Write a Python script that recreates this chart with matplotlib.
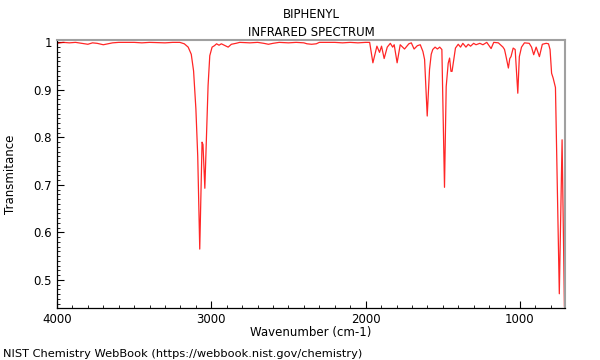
import matplotlib
matplotlib.use("Agg")
import matplotlib.pyplot as plt
from matplotlib.ticker import MultipleLocator, FuncFormatter

# wavenumber (cm-1) and transmittance
wavenumber = [4000, 3960, 3920, 3880, 3840, 3800, 3770, 3740, 3700, 3670,
              3640, 3600, 3500, 3450, 3400, 3300, 3250, 3204, 3175, 3150,
              3130, 3115, 3100, 3088, 3075, 3060, 3054, 3042, 3031, 3021,
              3010, 2995, 2980, 2966, 2950, 2935, 2910, 2891, 2870, 2840,
              2816, 2750, 2700, 2660, 2630, 2600, 2560, 2500, 2450, 2400,
              2380, 2350, 2320, 2300, 2200, 2150, 2100, 2050, 2000, 1974,
              1953, 1940, 1927, 1910, 1897, 1880, 1860, 1840, 1825, 1815,
              1796, 1776, 1748, 1720, 1704, 1686, 1665, 1646, 1629, 1618,
              1601, 1586, 1575, 1565, 1550, 1535, 1520, 1506, 1489, 1478,
              1465, 1456, 1447, 1440, 1418, 1400, 1385, 1370, 1350, 1335,
              1320, 1300, 1285, 1260, 1240, 1215, 1187, 1170, 1140, 1110,
              1100, 1090, 1075, 1066, 1058, 1044, 1031, 1014, 1004, 990,
              971, 940, 925, 911, 895, 874, 855, 830, 815, 805,
              795, 785, 770, 745, 727, 712, 706]
transmittance = [0.998, 1.0, 0.999, 1.0, 0.998, 0.996, 0.999, 0.998, 0.995, 0.997,
                 0.999, 1.0, 1.0, 0.999, 1.0, 0.999, 1.0, 1.0, 0.997, 0.99,
                 0.975, 0.94, 0.86, 0.76, 0.565, 0.79, 0.785, 0.693, 0.804, 0.909,
                 0.972, 0.99, 0.993, 0.997, 0.994, 0.997, 0.993, 0.99, 0.996, 0.998,
                 1.0, 0.999, 1.0, 0.998, 0.996, 0.998, 1.0, 0.999, 1.0, 0.999,
                 0.997, 0.996, 0.997, 1.0, 1.0, 0.999, 1.0, 0.999, 1.0, 1.0,
                 0.957, 0.975, 0.992, 0.979, 0.992, 0.966, 0.99, 0.998, 0.99, 0.995,
                 0.957, 0.995, 0.986, 0.997, 0.999, 0.986, 0.993, 0.995, 0.981, 0.964,
                 0.845, 0.943, 0.975, 0.985, 0.99, 0.986, 0.99, 0.985, 0.695, 0.907,
                 0.956, 0.967, 0.939, 0.939, 0.988, 0.996, 0.99, 0.998, 0.99, 0.996,
                 0.992, 0.998, 0.995, 0.998, 0.995, 1.0, 0.987, 1.0, 0.999, 0.99,
                 0.985, 0.97, 0.946, 0.966, 0.97, 0.988, 0.985, 0.893, 0.97, 0.99,
                 0.999, 0.998, 0.99, 0.974, 0.99, 0.97, 0.996, 0.998, 0.997, 0.985,
                 0.935, 0.925, 0.905, 0.471, 0.795, 0.445, 0.43]

fig = plt.figure(figsize=(6, 3.6), dpi=100)
ax = fig.add_axes([0.095, 0.1444, 0.8467, 0.7445])

ax.plot(wavenumber, transmittance, color="red", lw=0.9, alpha=0.85)

ax.set_xlim(4000, 708)
ax.set_ylim(0.441, 1.005)

ax.xaxis.set_major_locator(MultipleLocator(1000))
ax.xaxis.set_minor_locator(MultipleLocator(100))
ax.yaxis.set_major_locator(MultipleLocator(0.1))
ax.yaxis.set_minor_locator(MultipleLocator(0.01))
ax.yaxis.set_major_formatter(FuncFormatter(lambda v, p: "%g" % round(v, 2)))
ax.tick_params(which="both", direction="in", top=False, right=False, labelsize=8.5)
ax.tick_params(which="major", length=5, width=0.8)
ax.tick_params(which="minor", length=2.5, width=0.6)

for s in ("top", "right"):
    ax.spines[s].set_color("#a0a0a0")
    ax.spines[s].set_linewidth(1.5)
for s in ("left", "bottom"):
    ax.spines[s].set_color("black")
    ax.spines[s].set_linewidth(0.9)

ax.set_xlabel("Wavenumber (cm-1)", fontsize=8.5, labelpad=0)
ax.set_ylabel("Transmitance", fontsize=8.5, labelpad=12)
ax.set_title("BIPHENYL\nINFRARED SPECTRUM", fontsize=8.5, pad=3, linespacing=1.5)

fig.text(0.005, 0.008, "NIST Chemistry WebBook (https://webbook.nist.gov/chemistry)",
         fontsize=8.2)

fig.savefig("out.png", dpi=100)
